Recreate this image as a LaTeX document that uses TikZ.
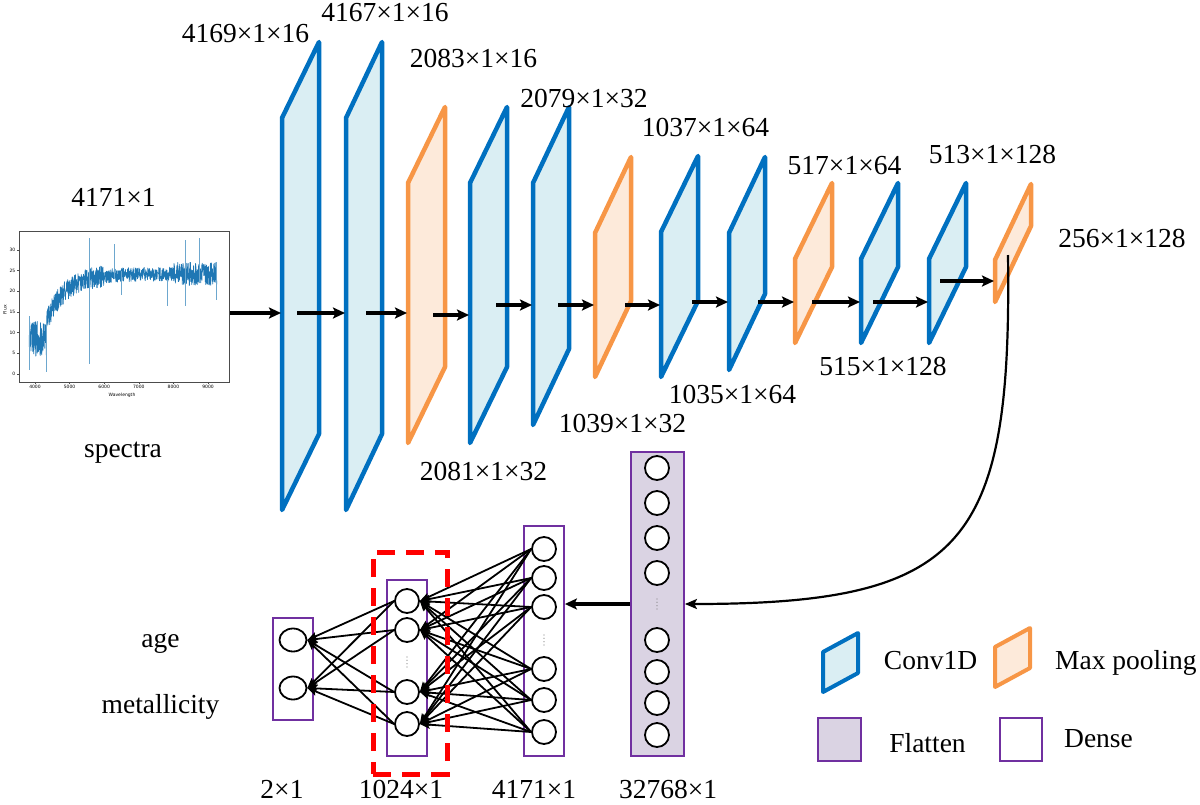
\documentclass[tikz,border=0pt]{standalone}
\usepackage{fontspec}
\setmainfont{Liberation Serif}
\newfontfamily\plotfont{DejaVu Sans}
\usetikzlibrary{arrows.meta,shapes.geometric}
\definecolor{cblue}{HTML}{0070C0}
\definecolor{cbluefill}{HTML}{DAEEF3}
\definecolor{porange}{HTML}{F79646}
\definecolor{porangefill}{HTML}{FDEADA}
\definecolor{dpurple}{HTML}{7030A0}
\definecolor{flatfill}{HTML}{DAD3E3}
\definecolor{specblue}{HTML}{1F77B4}
\newcommand{\lyr}[6]{% name, style, L, TL, BL, width
  \draw[#2] (#3,#4) coordinate (#1-tl) -- ++(#6,-76) coordinate (#1-tr)
    -- (#3+#6,#5-76) coordinate (#1-br) -- (#3,#5) coordinate (#1-bl) -- cycle;}
\begin{document}
\begin{tikzpicture}[x=1pt,y=-1pt,
  every node/.style={font=\fontsize{27.5}{33}\selectfont, inner sep=0pt},
  conv/.style={draw=cblue, fill=cbluefill, line width=4.5pt, line join=round},
  pool/.style={draw=porange, fill=porangefill, line width=4.5pt, line join=round},
  flow/.style={line width=3.2pt, -{Stealth[length=12pt,width=11pt,inset=2.5pt]}},
  conn/.style={line width=1.8pt, -{Stealth[length=10pt,width=8pt,inset=2pt]}},
  neuron/.style={circle, draw, line width=1.8pt, fill=white, minimum size=24pt},
  outn/.style={ellipse, draw, line width=1.8pt, fill=white, minimum width=27pt, minimum height=23pt},
  dbox/.style={draw=dpurple, line width=1.8pt, fill=white},
  fbox/.style={draw=dpurple, line width=1.8pt, fill=flatfill},
  ticklbl/.style={font=\plotfont\fontsize{4.5}{5}\selectfont, inner sep=0pt},
  specline/.style={specblue, line width=0.7pt, line join=round},
  declare function={sb(\x)=(\x<4330)*8.5+(\x>=4330)*(24.2-11.5*exp(-(\x-4330)/550));
                    amp(\x)=(\x<4330)*4.2+(\x>=4330)*(\x<6000)*2.6+(\x>=6000)*(\x<8000)*1.7+(\x>=8000)*2.8;}]
\useasboundingbox (0,0) rectangle (1200,804);

% ---------- spectrum plot ----------
\pgfmathsetseed{7}
\draw[specline] plot[domain=3830:9250, samples=950, variable=\l]
  ({35+(\l-4000)*0.0346}, {374-4.133*(sb(\l)+amp(\l)*rand)});
\foreach \w/\a/\b in {5577/2.5/33, 6300/23/31.5, 8350/16.5/32.5, 8750/22/33, 7830/23/16.5, 6480/25/19, 4330/0.5/13, 3835/1/14, 9240/18/27}
  \draw[specblue!65, line width=0.6pt] ({35+(\w-4000)*0.0346},{374-4.133*\a}) -- ({35+(\w-4000)*0.0346},{374-4.133*\b});
\draw[gray!60!black, line width=0.6pt] (19,231) rectangle (229,382);
\foreach \f in {0,5,...,30} {
  \draw[gray!60!black, line width=0.4pt] (19,{374-4.133*\f}) -- ++(-2,0);
  \node[ticklbl, anchor=east] at (15.5,{374-4.133*\f}) {\f};}
\foreach \w in {4000,5000,...,9000} {
  \draw[gray!60!black, line width=0.4pt] ({35+(\w-4000)*0.0346},382) -- ++(0,2);
  \node[ticklbl, anchor=north] at ({35+(\w-4000)*0.0346},385) {\w};}
\node[ticklbl] (wl) at (122,395.5) {Wavelength};
\node[ticklbl, rotate=90] (fl) at (5,310) {Flux};

% ---------- conv / pooling layers ----------
\lyr{L1}{conv}{282}{118}{510}{37}
\lyr{L2}{conv}{346}{118}{510}{36}
\lyr{L3}{pool}{408}{183}{443}{37}
\lyr{L4}{conv}{470}{183}{443}{37}
\lyr{L5}{conv}{533}{183}{425}{36}
\lyr{L6}{pool}{595}{233}{377}{36}
\lyr{L7}{conv}{661}{232}{377}{37}
\lyr{L8}{conv}{729}{233}{370}{36}
\lyr{L9}{pool}{795}{259}{343}{37}
\lyr{L10}{conv}{861}{259}{343}{37}
\lyr{L11}{conv}{929}{259}{343}{37}
\lyr{L12}{pool}{995}{260}{302}{36}

% ---------- flow arrows ----------
\foreach \a/\b/\y [count=\n] in {230/281/313, 297/345/313, 366/407/313, 433/469/315, 496/532/305,
   558/594/305, 625/660/305, 692/728/302, 758/794/302, 812/860/302, 873/928/302, 940/994/281} {
  \coordinate (s\n) at (\a,\y);
  \coordinate (e\n) at (\b,\y);
  \draw[flow] (s\n) -- (e\n);}

% ---------- layer labels ----------
\node[anchor=base] (t1) at (245.5,42) {4169×1×16};
\node[anchor=base] (t2) at (385,21) {4167×1×16};
\node[anchor=base] (t3) at (473.5,67) {2083×1×16};
\node[anchor=base] (t4) at (584,107) {2079×1×32};
\node[anchor=base] (t5) at (705.5,136) {1037×1×64};
\node[anchor=base] (t6) at (844.5,174) {517×1×64};
\node[anchor=base] (t7) at (992.5,163) {513×1×128};
\node[anchor=base] (t8) at (1122,247) {256×1×128};
\node[anchor=base] (t9) at (883,375) {515×1×128};
\node[anchor=base] (t10) at (732.5,403) {1035×1×64};
\node[anchor=base] (t11) at (622.5,432) {1039×1×32};
\node[anchor=base] (t12) at (483.5,480) {2081×1×32};
\node[anchor=base] (t13) at (113.5,206) {4171×1};
\node[anchor=base] (t14) at (123,457) {spectra};
\node[anchor=base] (t15) at (160.5,647) {age};
\node[anchor=base] (t16) at (160.5,713) {metallicity};
\node[anchor=base] (b1) at (282,798) {2×1};
\node[anchor=base] (b2) at (401,798) {1024×1};
\node[anchor=base] (b3) at (534,798) {4171×1};
\node[anchor=base] (b4) at (668,798) {32768×1};

% ---------- dense part ----------
\node[fbox, minimum width=53pt, minimum height=304pt] (flat) at (657.5,604) {};
\node[dbox, minimum width=40pt, minimum height=230pt] (hbox) at (544,641) {};
\node[dbox, minimum width=40pt, minimum height=176pt] (dbx) at (407,668) {};
\node[dbox, minimum width=40pt, minimum height=102pt] (obox) at (293,669) {};

\foreach \y [count=\i] in {468,503,538,573,640,672,703,735}
  \node[neuron] (f\i) at (657,\y) {};
\foreach \y [count=\i] in {549,578,607,669,700,732}
  \node[neuron] (h\i) at (544,\y) {};
\foreach \y [count=\i] in {601,630,692,724}
  \node[neuron] (d\i) at (407,\y) {};
\node[outn] (o1) at (293,640) {};
\node[outn] (o2) at (293,688) {};

\foreach \d in {-5,-1.7,1.7,5} {
  \fill[gray] (657,{604+\d}) circle (0.6);
  \fill[gray] (544,{640+\d}) circle (0.6);
  \fill[gray] (407,{662+\d}) circle (0.6);}

\foreach \i in {1,...,6}
  \foreach \j in {1,...,4}
    \draw[conn] (h\i.west) -- (d\j.east);
\foreach \j in {1,...,4}
  \foreach \k in {1,2}
    \draw[conn] (d\j.west) -- (o\k.east);

\node[draw=red, dashed, dash pattern=on 18pt off 11pt, line width=5pt, minimum width=74pt, minimum height=222pt] (sel) at (410,663) {};

\coordinate (c0) at (1008,255);
\draw[line width=2.2pt, -{Stealth[length=12pt,width=10pt,inset=2.5pt]}] (c0) .. controls (1012,545) and (965,604) .. (flat.east);
\draw[flow] (flat.west) -- (flat.west -| hbox.east);

% ---------- legend ----------
\draw[conv, line width=4pt] (823,652) -- (858,633) -- (858,673) -- (823,692) -- cycle;
\draw[pool, line width=4pt] (995,647) -- (1030,628) -- (1030,668) -- (995,687) -- cycle;
\draw[fbox] (818,718) rectangle (861,761);
\draw[dbox] (1000,718) rectangle (1042,761);
\node[anchor=base] (lg1) at (930.5,669) {Conv1D};
\node[anchor=base west] (lg2) at (1055,669) {Max pooling};
\node[anchor=base] (lg3) at (927.5,752) {Flatten};
\node[anchor=base] (lg4) at (1098.5,747) {Dense};
\end{tikzpicture}
\end{document}
